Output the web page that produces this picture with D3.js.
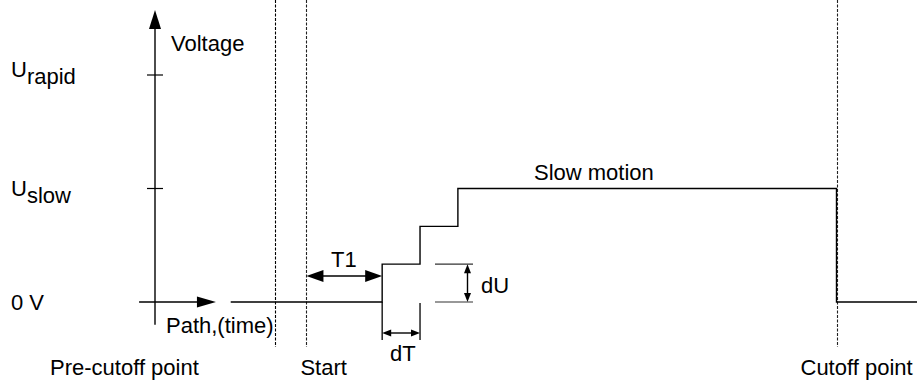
<!DOCTYPE html>
<html>
<head>
<meta charset="utf-8">
<script src="https://cdn.jsdelivr.net/npm/d3@7"></script>
<style>
  html, body { margin: 0; padding: 0; background: #fff; }
  svg { display: block; }
  text { font-family: "Liberation Sans", Arial, sans-serif; fill: #000; font-size: 22px; }
</style>
</head>
<body>
<div id="chart"></div>
<script>
// time in steps of dT, voltage in steps of dU
var signalT = [-2, 2, 2, 3, 3, 4, 4, 14, 14, 16.3];
var signalU = [0, 0, 1, 1, 2, 2, 3, 3, 0, 0];

var levelNames = ["0 V", "U", "U"];
var levelSubs = ["", "slow", "rapid"];
var levelValues = [0, 3, 6];

var markerNames = ["Pre-cutoff point", "Start", "Cutoff point"];
var markerTimes = [-0.83, 0, 14];

var width = 917, height = 381;

var x = d3.scaleLinear().domain([-4, 14]).range([155, 836.5]);
var y = d3.scaleLinear().domain([0, 6]).range([302, 75]);

var svg = d3.select("#chart").append("svg")
  .attr("width", width)
  .attr("height", height);

// filled arrow head, tip at (tx, ty), pointing along (dx, dy)
function head(g, tx, ty, dx, dy, len, half) {
  var bx = tx - dx * len, by = ty - dy * len;
  var px = -dy * half, py = dx * half;
  g.append("path")
    .attr("d", "M" + tx + "," + ty + "L" + (bx + px) + "," + (by + py) +
      "L" + (bx - px) + "," + (by - py) + "Z")
    .style("fill", "#000");
}

function seg(g, x1, y1, x2, y2, w, col) {
  return g.append("line")
    .attr("x1", x1).attr("y1", y1)
    .attr("x2", x2).attr("y2", y2)
    .style("stroke", col || "#000")
    .style("stroke-width", w || 1.3);
}

// dashed marker lines, snapped to the pixel grid
var markers = svg.append("g");
markerTimes.forEach(function (t, i) {
  var mx = Math.round(x(t)) + 0.5;
  seg(markers, mx, 0, mx, 347, 1.1, i == 0 ? "#000" : "#222")
    .style("stroke-dasharray", "3,1.5");
  markers.append("text")
    .attr("x", x(t))
    .attr("dx", i == 0 ? -225 : (i == 1 ? -6 : -36))
    .attr("y", 375)
    .text(markerNames[i]);
});

// axes
var axes = svg.append("g");
seg(axes, x(-4), y(-0.6), x(-4), y(7.72) + 17, 1.4);
head(axes, x(-4), y(7.72), 0, -1, 19, 6);
seg(axes, x(-4.42), y(0), x(-2.39) - 17, y(0), 1.4);
head(axes, x(-2.39), y(0), 1, 0, 19, 5.5);

levelValues.forEach(function (v, i) {
  if (v > 0) seg(axes, x(-4) - 8, y(v), x(-4) + 8, y(v), 1.2);
  var t = axes.append("text")
    .attr("x", 11)
    .attr("y", y(v) + (i == 0 ? 8 : (i == 1 ? 7 : 2)))
    .text(levelNames[i]);
  if (levelSubs[i]) {
    t.append("tspan").attr("dy", 7).text(levelSubs[i]);
  }
});

axes.append("text").attr("x", 171).attr("y", 51).text("Voltage");
axes.append("text").attr("x", 166).attr("y", 333).text("Path,(time)");

// signal
var pts = signalT.map(function (t, i) { return [x(t), y(signalU[i])]; });
svg.append("path")
  .attr("d", d3.line()(pts))
  .style("fill", "none")
  .style("stroke", "#000")
  .style("stroke-width", 1.4);

svg.append("text").attr("x", 534).attr("y", 180).text("Slow motion");

// dimensions
var dims = svg.append("g");

// T1
var yT1 = 276;
seg(dims, x(0) + 16, yT1, x(2) - 16, yT1, 1.6);
head(dims, x(0), yT1, -1, 0, 17, 6);
head(dims, x(2), yT1, 1, 0, 17, 6);
dims.append("text").attr("x", 331).attr("y", 267).text("T1");

// dT
var ydT = 333;
seg(dims, x(2), y(0), x(2), 340, 1.3);
seg(dims, x(3), y(0) + 1, x(3), 340, 1.3);
seg(dims, x(2) + 8, ydT, x(3) - 8, ydT, 1.4);
head(dims, x(2), ydT, -1, 0, 9, 3.5);
head(dims, x(3), ydT, 1, 0, 9, 3.5);
dims.append("text").attr("x", 390).attr("y", 361).text("dT");

// dU
var xdU = 467.5;
seg(dims, 435, y(1), 473, y(1), 1.1, "#333");
seg(dims, 435, y(0), 473, y(0), 1.1, "#333");
seg(dims, xdU, y(1) + 8, xdU, y(0) - 8, 1.4);
head(dims, xdU, y(1), 0, -1, 9, 3.5);
head(dims, xdU, y(0), 0, 1, 9, 3.5);
dims.append("text").attr("x", 481).attr("y", 293).text("dU");
</script>
</body>
</html>
